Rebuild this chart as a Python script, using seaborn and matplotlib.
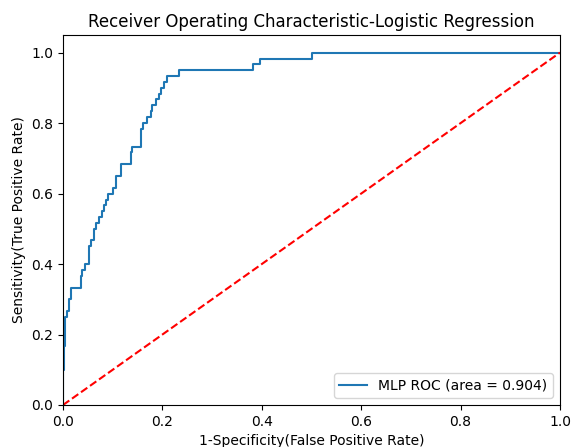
import matplotlib
matplotlib.use("Agg")
import matplotlib.pyplot as plt
import seaborn as sns
import pandas as pd

# ROC operating points: false positive rate at which the curve rises, and the
# true positive rate reached there (drawn as a post-step curve)
fpr = [0.0, 0.0, 0.002, 0.005, 0.008, 0.012, 0.017, 0.037, 0.039, 0.044,
       0.052, 0.057, 0.063, 0.067, 0.073, 0.078, 0.082, 0.087, 0.091, 0.100,
       0.106, 0.117, 0.136, 0.138, 0.157, 0.160, 0.170, 0.177, 0.180, 0.188,
       0.194, 0.197, 0.204, 0.209, 0.234, 0.383, 0.396, 0.502, 1.0]
tpr = [0.0, 0.100, 0.167, 0.250, 0.267, 0.300, 0.333, 0.367, 0.383, 0.400,
       0.450, 0.467, 0.500, 0.517, 0.533, 0.550, 0.567, 0.583, 0.600, 0.617,
       0.650, 0.683, 0.717, 0.733, 0.783, 0.800, 0.817, 0.833, 0.850, 0.867,
       0.883, 0.900, 0.917, 0.933, 0.950, 0.967, 0.983, 1.000, 1.000]
roc_auc = 0.904
chance = [0.0, 1.0]

roc = pd.DataFrame({"fpr": fpr, "tpr": tpr})

fig = plt.figure(figsize=(5.72, 4.47), dpi=100)
ax = fig.add_axes([63 / 572, 42 / 447, 497 / 572, 370 / 447])

sns.lineplot(data=roc, x="fpr", y="tpr", ax=ax, sort=False, estimator=None,
             drawstyle="steps-post", color="#1f77b4", linewidth=1.5,
             label=f"MLP ROC (area = {roc_auc:.3f})")
ax.plot(chance, chance, "r--")

ax.set_xlim(0.0, 1.0)
ax.set_ylim(0.0, 1.05)
ax.set_xlabel("1-Specificity(False Positive Rate)")
ax.set_ylabel("Sensitivity(True Positive Rate)")
ax.set_title("Receiver Operating Characteristic-Logistic Regression")
ax.legend(loc="lower right")

fig.savefig("out.png", dpi=100)
